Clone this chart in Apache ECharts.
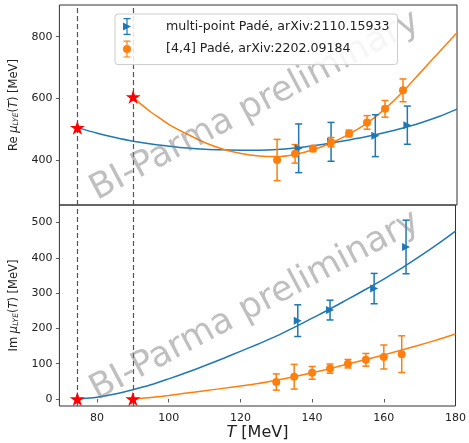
<!DOCTYPE html>
<html>
<head>
<meta charset="utf-8">
<script src="https://cdn.jsdelivr.net/npm/echarts@6/dist/echarts.min.js"></script>
<style>
  html, body { margin: 0; padding: 0; background: #fff; }
  #chart { width: 469px; height: 443px; }
</style>
</head>
<body>
<div id="chart"></div>
<script>
// x 轴刻度
const tTicks = [80, 100, 120, 140, 160, 180];
const reTicks = [400, 600, 800];
const imTicks = [0, 100, 200, 300, 400, 500];

// 星标 (虚线位置)
const starT = [74.5, 90];
const starRe = [505, 605];
const starIm = [0, 0];

// multi-point Padé 数据点
const multiT = [136, 145, 157.3, 166.2];
const multiRe = [438, 459, 479, 513];
const multiReErr = [79, 63, 68, 62];
const multiIm = [222, 252, 313, 431];
const multiImErr = [45, 28, 43, 76];

// [4,4] Padé 数据点
const padeT = [130, 135, 140, 145, 150, 155, 160, 165];
const padeRe = [400, 420, 437, 458, 486, 522, 566, 626];
const padeReErr = [67, 30, 10, 15, 11, 22, 27, 37];
const padeIm = [48, 63, 74, 86, 100, 111, 119, 127];
const padeImErr = [23, 35, 18, 13, 12, 18, 34, 52];

// 曲线
const multiCurveT = [74.5, 80, 85, 90, 95, 100, 105, 110, 115, 120, 125, 130, 135, 140, 145, 150, 155, 160, 165, 170, 175, 180];
const multiCurveRe = [505, 487, 473, 461, 452, 445, 439, 435, 433, 432, 432, 434, 439, 446, 455, 465, 476, 489, 504, 521, 541, 565];
const multiCurveIm = [0, 5, 14, 26, 40, 57, 75, 94, 114, 135, 156, 178, 203, 229, 255, 283, 311, 340, 371, 404, 439, 476];

const padeCurveT = [90, 92.5, 95, 97.5, 100, 105, 110, 115, 120, 125, 130, 135, 140, 145, 150, 155, 160, 165, 170, 175, 180];
const padeCurveRe = [605, 578, 555, 535, 515, 484, 456, 435, 421, 413, 411, 418, 433, 455, 484, 520, 566, 622, 686, 750, 813];
const padeCurveIm = [0, 2, 4, 7, 10, 17, 23, 30, 37, 44, 53, 63, 74, 86, 99, 112, 125, 139, 153, 168, 184];

const BLUE = "#1f77b4";
const ORANGE = "#ff7f0e";
const FONT = "DejaVu Sans";
const multiName = "multi-point Padé, arXiv:2110.15933";
const padeName = "[4,4] Padé, arXiv:2202.09184";

const STAR = "path://M0,-100L22.45,-30.9L95.1,-30.9L36.33,11.8L58.78,80.9L0,38.2L-58.78,80.9L-36.33,11.8L-95.1,-30.9L-22.45,-30.9Z";
// 图例图标: 误差棒 + 标记
const barPath = "M4.4,0L5.6,0L5.6,17L4.4,17ZM1.5,0L8.5,0L8.5,1.2L1.5,1.2ZM1.5,15.8L8.5,15.8L8.5,17L1.5,17Z";
const ICON_MULTI = "path://" + barPath + "M1,4.5L9,8.5L1,12.5Z";
const ICON_PADE = "path://" + barPath + "M1,8.5A4,4 0 1,1 9,8.5A4,4 0 1,1 1,8.5Z";

const zip = (xs, ys) => xs.map((x, i) => [x, ys[i]]);
const zipErr = (xs, ys, es) => xs.map((x, i) => [x, ys[i] - es[i], ys[i] + es[i]]);

function errorBar(color) {
   return function (params, api) {
      const x = api.value(0);
      const top = api.coord([x, api.value(2)]);
      const bot = api.coord([x, api.value(1)]);
      const w = 3.5;
      const st = { stroke: color, lineWidth: 1.5 };
      return {
         type: "group",
         children: [
            { type: "line", shape: { x1: top[0], y1: top[1], x2: bot[0], y2: bot[1] }, style: st },
            { type: "line", shape: { x1: top[0] - w, y1: top[1], x2: top[0] + w, y2: top[1] }, style: st },
            { type: "line", shape: { x1: bot[0] - w, y1: bot[1], x2: bot[0] + w, y2: bot[1] }, style: st },
         ],
      };
   };
}

function panelSeries(idx, multiCurve, padeCurve, multiVal, multiErr, padeVal, padeErr, starVal) {
   const ax = { xAxisIndex: idx, yAxisIndex: idx };
   return [
      {
         ...ax, type: "line", name: "c1", data: zip(multiCurveT, multiCurve), showSymbol: false, smooth: 0.3,
         lineStyle: { color: BLUE, width: 1.5 }, z: 3,
      },
      {
         ...ax, type: "line", name: "c2", data: zip(padeCurveT, padeCurve), showSymbol: false, smooth: 0.3,
         lineStyle: { color: ORANGE, width: 1.5 }, z: 3,
      },
      {
         ...ax, type: "custom", renderItem: errorBar(BLUE), data: zipErr(multiT, multiVal, multiErr),
         encode: { x: 0, y: [1, 2] }, z: 4,
      },
      {
         ...ax, type: "scatter", name: multiName, data: zip(multiT, multiVal), symbol: "triangle",
         symbolRotate: -90, symbolSize: 8, itemStyle: { color: BLUE, opacity: 1 }, z: 5,
      },
      {
         ...ax, type: "custom", renderItem: errorBar(ORANGE), data: zipErr(padeT, padeVal, padeErr),
         encode: { x: 0, y: [1, 2] }, z: 4,
      },
      {
         ...ax, type: "scatter", name: padeName, data: zip(padeT, padeVal), symbol: "circle",
         symbolSize: 8, itemStyle: { color: ORANGE, opacity: 1 }, z: 5,
      },
      {
         ...ax, type: "scatter", name: "stars", data: zip(starT, starVal), symbol: STAR, symbolKeepAspect: true,
         symbolSize: 15, itemStyle: { color: "#ff0000", opacity: 1 }, z: 6,
         markLine: {
            silent: true, symbol: "none", label: { show: false }, animation: false,
            lineStyle: { color: "#555", type: [5, 3], width: 1.2 },
            data: starT.map((t) => ({ xAxis: t })),
         },
      },
   ];
}

const tickStyle = { show: true, inside: false, length: 3.5, lineStyle: { color: "#333", width: 0.8 } };
const labelStyle = { color: "#222", fontSize: 11, fontFamily: FONT };

function yName(prefix) {
   return prefix + " {mu|μ}{sub|LYE}({it|T}) [MeV]";
}
const yNameStyle = {
   color: "#222", fontSize: 11.5, fontFamily: FONT,
   rich: {
      mu: { fontSize: 11.5, fontFamily: FONT, fontStyle: "italic", color: "#222" },
      sub: { fontSize: 7.5, fontFamily: FONT, fontStyle: "italic", color: "#222", verticalAlign: "bottom", padding: [5, 0, 0, 0] },
      it: { fontSize: 11.5, fontFamily: FONT, fontStyle: "italic", color: "#222" },
   },
};

const myChart = echarts.init(document.getElementById("chart"), null, { renderer: "canvas" });

const watermark = (y) => ({
   type: "text", x: 255, y: y, rotation: (28 * Math.PI) / 180, z: 10, silent: true,
   style: {
      text: "BI-Parma preliminary", font: "35px 'DejaVu Sans'", fill: "rgba(128,128,128,0.5)",
      align: "center", verticalAlign: "middle",
   },
});

const option = {
   animation: false,
   backgroundColor: "#fff",
   grid: [
      { left: 55, right: 12, top: 5, height: 200, show: true, borderColor: "#333", borderWidth: 1, backgroundColor: "transparent" },
      { left: 55, right: 12, top: 205, height: 201, show: true, borderColor: "#333", borderWidth: 1, backgroundColor: "transparent" },
   ],
   xAxis: [
      {
         gridIndex: 0, type: "value", min: 69.5, max: 180,
         axisLine: { show: false }, axisTick: { show: false }, axisLabel: { show: false }, splitLine: { show: false },
      },
      {
         gridIndex: 1, type: "value", min: 69.5, max: 180,
         axisLine: { show: false }, splitLine: { show: false },
         axisTick: { ...tickStyle, customValues: tTicks },
         axisLabel: { ...labelStyle, margin: 7, customValues: tTicks },
         name: "{it|T} [MeV]", nameLocation: "middle", nameGap: 18,
         nameTextStyle: {
            color: "#222", fontSize: 16, fontFamily: FONT,
            rich: { it: { fontSize: 16, fontFamily: FONT, fontStyle: "italic", color: "#222" } },
         },
      },
   ],
   yAxis: [
      {
         gridIndex: 0, type: "value", min: 254, max: 903,
         axisLine: { show: false }, splitLine: { show: false },
         axisTick: { ...tickStyle, customValues: reTicks },
         axisLabel: { ...labelStyle, margin: 7, customValues: reTicks },
         name: yName("Re"), nameLocation: "middle", nameGap: 31, nameTextStyle: yNameStyle,
      },
      {
         gridIndex: 1, type: "value", min: -20, max: 550,
         axisLine: { show: false }, splitLine: { show: false },
         axisTick: { ...tickStyle, customValues: imTicks },
         axisLabel: { ...labelStyle, margin: 7, customValues: imTicks },
         name: yName("Im"), nameLocation: "middle", nameGap: 31, nameTextStyle: yNameStyle,
      },
   ],
   legend: {
      left: 115, top: 14, orient: "vertical",
      itemWidth: 24, itemHeight: 17, itemGap: 5.6,
      padding: [4, 8, 7, 8],
      backgroundColor: "rgba(255,255,255,0.85)", borderColor: "#ccc", borderWidth: 1, borderRadius: 3,
      textStyle: { color: "#222", fontSize: 12.6, fontFamily: FONT, padding: [0, 0, 0, 22] },
      data: [
         { name: multiName, icon: ICON_MULTI, itemStyle: { color: BLUE } },
         { name: padeName, icon: ICON_PADE, itemStyle: { color: ORANGE } },
      ],
      selectedMode: false,
      z: 20,
   },
   graphic: [watermark(106), watermark(306)],
   series: [
      ...panelSeries(0, multiCurveRe, padeCurveRe, multiRe, multiReErr, padeRe, padeReErr, starRe),
      ...panelSeries(1, multiCurveIm, padeCurveIm, multiIm, multiImErr, padeIm, padeImErr, starIm),
   ],
};

option && myChart.setOption(option);
</script>
</body>
</html>
